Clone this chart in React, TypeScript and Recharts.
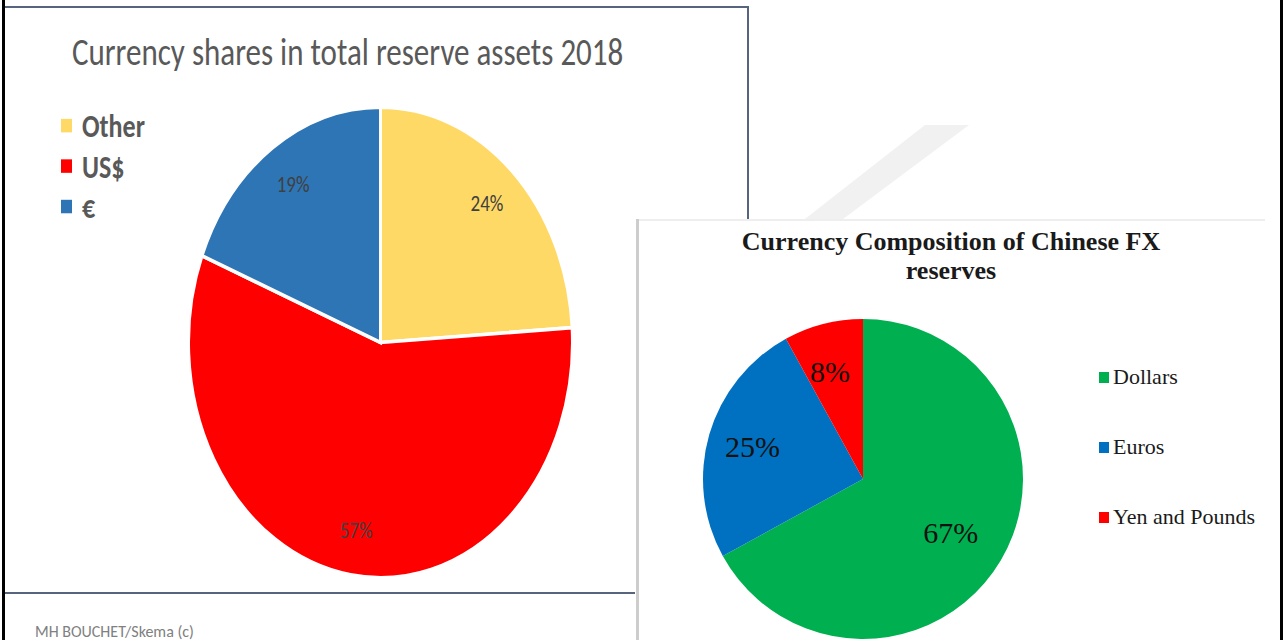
import React from "react";
import { PieChart, Pie, Cell, Legend } from "recharts";

// left chart: world reserves 2018
const worldNames = ["Other", "US$", "€"];
const worldShares = [24, 57, 19];
const worldColors = ["#FFD966", "#FF0000", "#2E75B6"];

// right chart: Chinese FX reserves
const chinaNames = ["Dollars", "Euros", "Yen and Pounds"];
const chinaShares = [67, 25, 8];
const chinaColors = ["#00B050", "#0070C0", "#FF0000"];

const worldData = worldNames.map((name, i) => ({ name, share: worldShares[i] }));
const chinaData = chinaNames.map((name, i) => ({ name, share: chinaShares[i] }));

const RAD = Math.PI / 180;
// the left slide picture is stretched vertically
const STRETCH = 1.2257;
const CALIBRI = "Carlito, Calibri, Lato, sans-serif";
const TIMES = "'Liberation Serif', 'Times New Roman', serif";

const worldLabel = ({ cx, cy, midAngle, outerRadius, value }: any) => {
  const r = outerRadius * 0.81;
  const x = cx + r * Math.cos(-midAngle * RAD);
  const y = cy + r * Math.sin(-midAngle * RAD);
  return (
    <text x={x} y={y} textAnchor="middle" dominantBaseline="central" fill="#404040" fontSize={19} fontFamily={CALIBRI}>
      {value}%
    </text>
  );
};

const chinaLabel = ({ cx, cy, midAngle, outerRadius, value }: any) => {
  const r = outerRadius * 0.68;
  const x = cx + r * Math.cos(-midAngle * RAD);
  const y = cy + r * Math.sin(-midAngle * RAD);
  return (
    <text x={x - 6} y={y - 2} textAnchor="middle" dominantBaseline="central" fill="#111" fontSize={30} fontFamily={TIMES}>
      {value}%
    </text>
  );
};

const WorldLegend = ({ payload }: any) => (
  <div>
    {(payload || []).map((entry: any, i: number) => (
      <div key={entry.value} style={{ display: "flex", alignItems: "center", height: 33 }}>
        <span style={{ width: 11, height: 11, background: worldColors[i], marginRight: 10 }} />
        <span style={{ fontFamily: CALIBRI, fontWeight: 700, fontSize: 26, color: "#595959" }}>{entry.value}</span>
      </div>
    ))}
  </div>
);

const ChinaLegend = ({ payload }: any) => (
  <div>
    {(payload || []).map((entry: any, i: number) => (
      <div key={entry.value} style={{ display: "flex", alignItems: "center", height: 70 }}>
        <span style={{ width: 10, height: 11, background: chinaColors[i], marginRight: 4 }} />
        <span style={{ fontFamily: TIMES, fontSize: 22, color: "#1a1a1a" }}>{entry.value}</span>
      </div>
    ))}
  </div>
);

export default function App() {
  return (
    <div style={{ position: "fixed", left: 0, top: 0, width: 1288, height: 640, overflow: "hidden", background: "#fff" }}>
      {/* slide frame */}
      <div style={{ position: "absolute", left: 2, top: 0, width: 3, height: 640, background: "#000" }} />
      <div style={{ position: "absolute", left: 1280, top: 0, width: 3, height: 640, background: "#000" }} />
      <div style={{ position: "absolute", left: 5, top: 6, width: 744, height: 2, background: "#56647e" }} />
      <div style={{ position: "absolute", left: 747, top: 6, width: 2, height: 588, background: "#56647e" }} />
      <div style={{ position: "absolute", left: 5, top: 592, width: 630, height: 2, background: "#56647e" }} />
      <svg style={{ position: "absolute", left: 0, top: 0 }} width={1288} height={640}>
        <polygon points="925,125 969,125 843,219 805,219" fill="#f1f1f1" />
      </svg>

      <div style={{ position: "absolute", left: 35, top: 622, fontFamily: CALIBRI, fontSize: 16, lineHeight: "20px", color: "#808080" }}>
        MH BOUCHET/Skema (c)
      </div>

      {/* left chart */}
      <div style={{ position: "absolute", left: 0, top: 0, width: 748, height: 480, transform: `scaleY(${STRETCH})`, transformOrigin: "0 0" }}>
        <div style={{ position: "absolute", left: 72, top: 23, fontFamily: CALIBRI, fontSize: 31, lineHeight: "38px", color: "#595959", whiteSpace: "nowrap" }}>
          Currency shares in total reserve assets 2018
        </div>
        <PieChart width={748} height={480} margin={{ top: 0, right: 0, bottom: 0, left: 0 }}>
          <Pie
            data={worldData}
            dataKey="share"
            nameKey="name"
            cx={380.5}
            cy={279.4}
            outerRadius={192}
            startAngle={90}
            endAngle={-270}
            stroke="#fff"
            strokeWidth={3}
            label={worldLabel}
            labelLine={false}
            isAnimationActive={false}
          >
            {worldData.map((d, i) => (
              <Cell key={d.name} fill={worldColors[i]} />
            ))}
          </Pie>
          <Legend layout="vertical" align="center" verticalAlign="middle" wrapperStyle={{ left: 61, top: 86, width: 200 }} content={WorldLegend} />
        </PieChart>
      </div>

      {/* right chart */}
      <div style={{ position: "absolute", left: 636, top: 219, width: 641, height: 421, background: "#fff", borderLeft: "3px solid #cdcdcd" }}>
        <div style={{ position: "absolute", left: 0, top: 0, width: 626, height: 2, background: "#eeeeee" }} />
        <div style={{ position: "absolute", left: 0, top: 8, width: 624, textAlign: "center", fontFamily: TIMES, fontWeight: 700, fontSize: 26, lineHeight: "29px", color: "#1a1a1a" }}>
          Currency Composition of Chinese FX
          <br />
          reserves
        </div>
        <PieChart width={641} height={421} margin={{ top: 0, right: 0, bottom: 0, left: 0 }}>
          <Pie
            data={chinaData}
            dataKey="share"
            nameKey="name"
            cx={224}
            cy={260}
            outerRadius={160}
            startAngle={90}
            endAngle={-270}
            stroke="none"
            label={chinaLabel}
            labelLine={false}
            isAnimationActive={false}
          >
            {chinaData.map((d, i) => (
              <Cell key={d.name} fill={chinaColors[i]} />
            ))}
          </Pie>
          <Legend layout="vertical" align="center" verticalAlign="middle" wrapperStyle={{ left: 460, top: 123, width: 180 }} content={ChinaLegend} />
        </PieChart>
      </div>
    </div>
  );
}
